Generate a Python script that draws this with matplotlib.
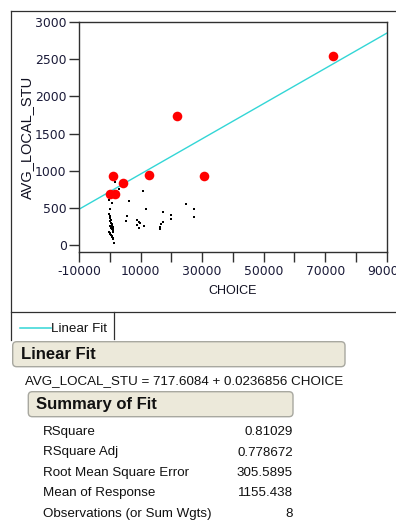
import matplotlib
matplotlib.use("Agg")
import matplotlib.pyplot as plt
from matplotlib.patches import FancyBboxPatch
from matplotlib.lines import Line2D
import numpy as np

# ---- data ----
red_x = [72670, 21930, 980, 12900, 30580, 4360, 230, 1630]
red_y = [2540, 1730, 925, 940, 925, 840, 680, 690]

black_x = [1750, 3060, 10640, 6410, -420, -100, 650, 130, 11840, 24720, 27230, 27230,
           17240, 19750, 19750, 5660, 5200, 8780, 9340, 9760, 8780, 9340, 11060,
           17240, 16720, 16400, 16400, 1430,
           -150, 0, 150, 300, 450, 600, 750, 900, 1050, 1200, -100, 50, 200, 350,
           500, 650, 800, 950, 1100, 0, 300, 600, 900, 1200, 100, 400, 700, 1000]
black_y = [852, 750, 731, 592, 673, 600, 561, 480, 489, 548, 489, 373,
           440, 408, 354, 390, 319, 336, 310, 292, 265, 229, 256,
           310, 279, 246, 211, 31,
           420, 390, 360, 330, 300, 280, 260, 240, 220, 200, 180, 160, 150, 140,
           130, 120, 110, 100, 90, 250, 230, 210, 190, 170, 320, 290, 270, 80]

fit_intercept = 717.6084
fit_slope = 0.0236856

x_ticks = list(range(-10000, 90001, 10000))
x_ticklabels = ["-10000", "", "10000", "", "30000", "", "50000", "", "70000", "", "90000"]
y_ticks = [0, 500, 1000, 1500, 2000, 2500, 3000]

summary_labels = ["RSquare", "RSquare Adj", "Root Mean Square Error",
                  "Mean of Response", "Observations (or Sum Wgts)"]
summary_values = ["0.81029", "0.778672", "305.5895", "1155.438", "8"]

equation = "AVG_LOCAL_STU = 717.6084 + 0.0236856 CHOICE"

# ---- figure ----
W, H = 396, 524
fig = plt.figure(figsize=(W / 100, H / 100), dpi=100)
fig.patch.set_facecolor("white")

# overlay in pixel coordinates
ov = fig.add_axes([0, 0, 1, 1], zorder=0)
ov.set_xlim(0, W)
ov.set_ylim(H, 0)
ov.axis("off")

TXT = "Liberation Sans"
frame_c = "#303030"
# outer report frame
ov.add_line(Line2D([10.7, 10.7], [11, 340], color=frame_c, lw=0.9))
ov.add_line(Line2D([10.7, W], [11, 11], color=frame_c, lw=0.9))
ov.add_line(Line2D([10.7, W], [311.7, 311.7], color=frame_c, lw=0.9))
ov.add_line(Line2D([114.3, 114.3], [311.7, 339], color=frame_c, lw=0.9))

# legend
ov.add_line(Line2D([20, 51], [328, 328], color="#33d6d6", lw=1.1))
ov.text(51, 328.5, "Linear Fit", fontsize=9.6, family=TXT, va="center", ha="left", color="#111111")

# header boxes
def header(x0, y0, x1, y1, label):
    p = FancyBboxPatch((x0, y0), x1 - x0, y1 - y0,
                       boxstyle="round,pad=0,rounding_size=4",
                       fc="#ECE9DA", ec="#A8A8A0", lw=1.0)
    ov.add_patch(p)
    ov.text(x0 + 8, (y0 + y1) / 2 + 0.5, label, fontsize=12, family=TXT,
            weight="bold", va="center", ha="left", color="#111111")

header(12.7, 341.7, 345, 366.7, "Linear Fit")
ov.text(25, 381, equation, fontsize=9.6, family=TXT, va="center", ha="left", color="#111111")
header(28.3, 391.7, 293, 416.7, "Summary of Fit")

row_y = [432.3, 452.5, 472.8, 493.2, 513.6]
for lab, val, yy in zip(summary_labels, summary_values, row_y):
    ov.text(43, yy, lab, fontsize=9.6, family=TXT, va="center", ha="left", color="#111111")
    ov.text(293, yy, val, fontsize=9.6, family=TXT, va="center", ha="right", color="#111111")

# ---- main scatter axes ----
L, R, T, B = 79, 386.7, 22, 252.3
ax = fig.add_axes([L / W, 1 - B / H, (R - L) / W, (B - T) / H], zorder=2)
ax.set_xlim(-10000, 90000)
ax.set_ylim(-98, 3000)

xs = np.array([-10000, 90000])
ax.plot(xs, fit_intercept + fit_slope * xs, color="#33d6d6", lw=1.0, zorder=2)
ax.scatter(black_x, black_y, s=3, marker="s", color="black", lw=0, zorder=3)
ax.scatter(red_x, red_y, s=48, marker="o", color="#ff0000", lw=0, zorder=4)

ax.set_xticks(x_ticks)
ax.set_xticklabels(x_ticklabels)
ax.set_yticks(y_ticks)
ax.set_yticklabels([str(v) for v in y_ticks])
tick_c = "#1a1a38"
ax.tick_params(direction="out", length=7.5, width=1.0, color=frame_c,
               labelsize=8.9, labelcolor=tick_c, pad=1.5)
for lbl in ax.get_xticklabels() + ax.get_yticklabels():
    lbl.set_family("DejaVu Sans")
for s in ax.spines.values():
    s.set_color(frame_c)
    s.set_linewidth(1.0)

ax.set_xlabel("CHOICE", fontsize=9, family=TXT, color="#111122", labelpad=5)
ax.set_ylabel("AVG_LOCAL_STU", fontsize=10.5, family=TXT, color="#111122", labelpad=1)

fig.savefig("out.png", dpi=100)
